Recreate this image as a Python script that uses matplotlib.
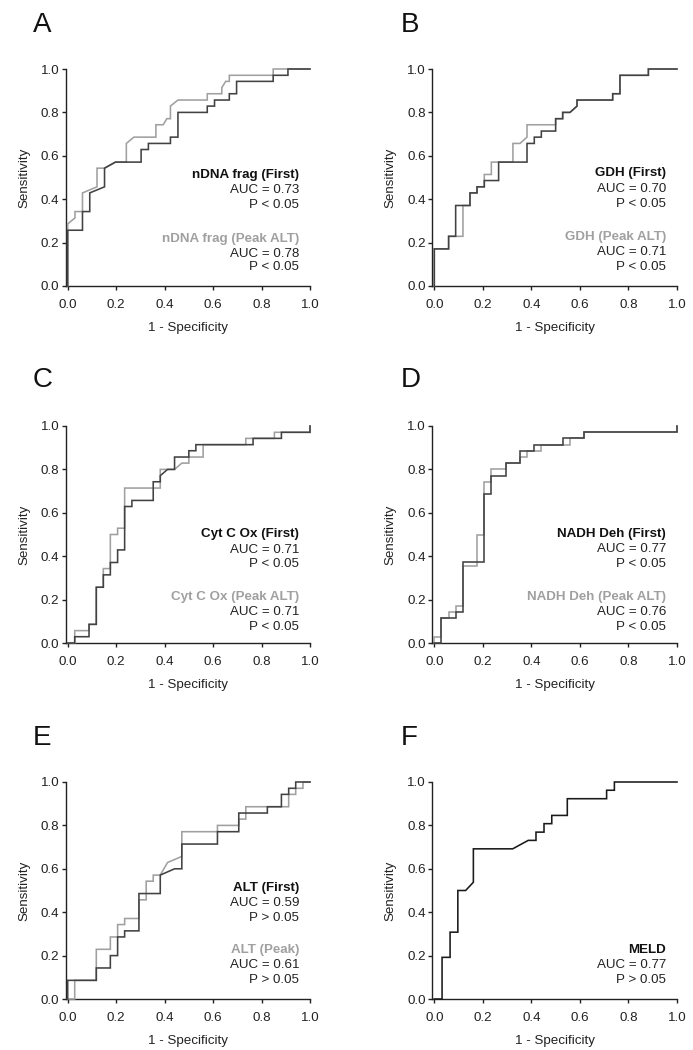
import matplotlib
matplotlib.use("Agg")
import matplotlib.pyplot as plt

plt.rcParams['font.family'] = ['Liberation Sans', 'DejaVu Sans']

# ---------------- data (1 - specificity, sensitivity) vertices ----------------
A_first = [(0, 0), (0, 0.257), (0.061, 0.257), (0.061, 0.343), (0.091, 0.343), (0.091, 0.429),
           (0.152, 0.457), (0.152, 0.543), (0.197, 0.571), (0.303, 0.571), (0.303, 0.629),
           (0.333, 0.629), (0.333, 0.657), (0.424, 0.657), (0.424, 0.686), (0.455, 0.686),
           (0.455, 0.800), (0.576, 0.800), (0.576, 0.829), (0.606, 0.829), (0.606, 0.857),
           (0.667, 0.857), (0.667, 0.886), (0.697, 0.886), (0.697, 0.943), (0.848, 0.943),
           (0.848, 0.971), (0.909, 0.971), (0.909, 1.0), (1.0, 1.0)]
A_peak = [(0, 0), (0, 0.286), (0.030, 0.314), (0.030, 0.343), (0.061, 0.343), (0.061, 0.429),
          (0.121, 0.457), (0.121, 0.543), (0.152, 0.543), (0.197, 0.571), (0.242, 0.571),
          (0.242, 0.657), (0.273, 0.686), (0.364, 0.686), (0.364, 0.743), (0.394, 0.743),
          (0.409, 0.771), (0.424, 0.771), (0.424, 0.829), (0.455, 0.857), (0.576, 0.857),
          (0.576, 0.886), (0.636, 0.886), (0.636, 0.914), (0.652, 0.943), (0.667, 0.943),
          (0.667, 0.971), (0.848, 0.971), (0.848, 1.0), (1.0, 1.0)]

B_first = [(0, 0), (0, 0.171), (0.059, 0.171), (0.059, 0.229), (0.088, 0.229), (0.088, 0.371),
           (0.147, 0.371), (0.147, 0.429), (0.176, 0.429), (0.176, 0.457), (0.206, 0.457),
           (0.206, 0.486), (0.265, 0.486), (0.265, 0.571), (0.382, 0.571), (0.382, 0.657),
           (0.412, 0.657), (0.412, 0.686), (0.441, 0.686), (0.441, 0.714), (0.500, 0.714),
           (0.500, 0.771), (0.529, 0.771), (0.529, 0.800), (0.559, 0.800), (0.588, 0.829),
           (0.588, 0.857), (0.735, 0.857), (0.735, 0.886), (0.765, 0.886), (0.765, 0.971),
           (0.882, 0.971), (0.882, 1.0), (1.0, 1.0)]
B_peak = [(0, 0), (0, 0.171), (0.059, 0.171), (0.059, 0.229), (0.118, 0.229), (0.118, 0.371),
          (0.147, 0.371), (0.147, 0.429), (0.176, 0.429), (0.176, 0.457), (0.206, 0.457),
          (0.206, 0.514), (0.235, 0.514), (0.235, 0.571), (0.324, 0.571), (0.324, 0.657),
          (0.353, 0.657), (0.382, 0.686), (0.382, 0.743), (0.500, 0.743), (0.500, 0.771),
          (0.529, 0.771), (0.529, 0.800), (0.559, 0.800), (0.588, 0.829), (0.588, 0.857),
          (0.735, 0.857), (0.735, 0.886), (0.765, 0.886), (0.765, 0.971), (0.882, 0.971),
          (0.882, 1.0), (1.0, 1.0)]

C_first = [(0, 0), (0.029, 0), (0.029, 0.029), (0.088, 0.029), (0.088, 0.086), (0.118, 0.086),
           (0.118, 0.257), (0.147, 0.257), (0.147, 0.314), (0.176, 0.314), (0.176, 0.371),
           (0.206, 0.371), (0.206, 0.429), (0.235, 0.429), (0.235, 0.629), (0.265, 0.629),
           (0.265, 0.657), (0.353, 0.657), (0.353, 0.743), (0.382, 0.743), (0.382, 0.771),
           (0.412, 0.800), (0.441, 0.800), (0.441, 0.857), (0.500, 0.857), (0.500, 0.886),
           (0.529, 0.886), (0.529, 0.914), (0.765, 0.914), (0.765, 0.943), (0.882, 0.943),
           (0.882, 0.971), (1.0, 0.971), (1.0, 1.0)]
C_peak = [(0, 0), (0.029, 0), (0.029, 0.057), (0.088, 0.057), (0.088, 0.086), (0.118, 0.086),
          (0.118, 0.257), (0.147, 0.257), (0.147, 0.343), (0.176, 0.343), (0.176, 0.500),
          (0.206, 0.500), (0.206, 0.529), (0.235, 0.529), (0.235, 0.714), (0.382, 0.714),
          (0.382, 0.800), (0.441, 0.800), (0.471, 0.829), (0.500, 0.829), (0.500, 0.857),
          (0.559, 0.857), (0.559, 0.914), (0.735, 0.914), (0.735, 0.943), (0.853, 0.943),
          (0.853, 0.971), (1.0, 0.971), (1.0, 1.0)]

D_first = [(0, 0), (0.029, 0), (0.029, 0.114), (0.088, 0.114), (0.088, 0.143), (0.118, 0.143),
           (0.118, 0.371), (0.206, 0.371), (0.206, 0.686), (0.235, 0.686), (0.235, 0.771),
           (0.294, 0.771), (0.294, 0.829), (0.353, 0.829), (0.353, 0.886), (0.412, 0.886),
           (0.412, 0.914), (0.529, 0.914), (0.529, 0.943), (0.618, 0.943), (0.618, 0.971),
           (1.0, 0.971), (1.0, 1.0)]
D_peak = [(0, 0), (0, 0.029), (0.029, 0.029), (0.029, 0.114), (0.059, 0.114), (0.059, 0.143),
          (0.088, 0.143), (0.088, 0.171), (0.118, 0.171), (0.118, 0.357), (0.176, 0.357),
          (0.176, 0.500), (0.206, 0.500), (0.206, 0.743), (0.235, 0.743), (0.235, 0.800),
          (0.294, 0.800), (0.294, 0.829), (0.353, 0.829), (0.353, 0.857), (0.382, 0.857),
          (0.382, 0.886), (0.441, 0.886), (0.441, 0.914), (0.559, 0.914), (0.559, 0.943),
          (0.618, 0.943), (0.618, 0.971), (1.0, 0.971), (1.0, 1.0)]

E_first = [(0, 0), (0, 0.086), (0.118, 0.086), (0.118, 0.143), (0.176, 0.143), (0.176, 0.200),
           (0.206, 0.200), (0.206, 0.286), (0.235, 0.286), (0.235, 0.314), (0.294, 0.314),
           (0.294, 0.486), (0.382, 0.486), (0.382, 0.571), (0.441, 0.600), (0.471, 0.600),
           (0.471, 0.714), (0.618, 0.714), (0.618, 0.771), (0.706, 0.771), (0.706, 0.857),
           (0.824, 0.857), (0.824, 0.886), (0.882, 0.886), (0.882, 0.943), (0.912, 0.943),
           (0.912, 0.971), (0.941, 0.971), (0.941, 1.0), (1.0, 1.0)]
E_peak = [(0, 0), (0.029, 0), (0.029, 0.086), (0.118, 0.086), (0.118, 0.229), (0.176, 0.229),
          (0.176, 0.286), (0.206, 0.286), (0.206, 0.343), (0.235, 0.343), (0.235, 0.371),
          (0.294, 0.371), (0.294, 0.457), (0.324, 0.457), (0.324, 0.543), (0.353, 0.543),
          (0.353, 0.571), (0.382, 0.571), (0.412, 0.629), (0.471, 0.657), (0.471, 0.771),
          (0.618, 0.771), (0.618, 0.800), (0.706, 0.800), (0.706, 0.829), (0.735, 0.829),
          (0.735, 0.886), (0.912, 0.886), (0.912, 0.943), (0.941, 0.943), (0.941, 0.971),
          (0.971, 0.971), (0.971, 1.0), (1.0, 1.0)]

F_meld = [(0, 0), (0.032, 0), (0.032, 0.192), (0.065, 0.192), (0.065, 0.308), (0.097, 0.308),
          (0.097, 0.500), (0.129, 0.500), (0.161, 0.538), (0.161, 0.692), (0.323, 0.692),
          (0.387, 0.731), (0.419, 0.731), (0.419, 0.769), (0.452, 0.769), (0.452, 0.808),
          (0.484, 0.808), (0.484, 0.846), (0.548, 0.846), (0.548, 0.923), (0.710, 0.923),
          (0.710, 0.962), (0.742, 0.962), (0.742, 1.0), (1.0, 1.0)]

panel_letters = ['A', 'B', 'C', 'D', 'E', 'F']
first_names = ['nDNA frag (First)', 'GDH (First)', 'Cyt C Ox (First)', 'NADH Deh (First)',
               'ALT (First)', 'MELD']
peak_names = ['nDNA frag (Peak ALT)', 'GDH (Peak ALT)', 'Cyt C Ox (Peak ALT)',
              'NADH Deh (Peak ALT)', 'ALT (Peak)', None]
first_auc = ['0.73', '0.70', '0.71', '0.77', '0.59', '0.77']
peak_auc = ['0.78', '0.71', '0.71', '0.76', '0.61', None]
first_p = ['P < 0.05', 'P < 0.05', 'P < 0.05', 'P < 0.05', 'P > 0.05', 'P > 0.05']
peak_p = ['P < 0.05', 'P < 0.05', 'P < 0.05', 'P < 0.05', 'P > 0.05', None]
first_curves = [A_first, B_first, C_first, D_first, E_first, F_meld]
peak_curves = [A_peak, B_peak, C_peak, D_peak, E_peak, None]
ticks = [0.0, 0.2, 0.4, 0.6, 0.8, 1.0]
tick_labels = ['0.0', '0.2', '0.4', '0.6', '0.8', '1.0']

# ---------------- style / layout ----------------
W, H = 693, 1050
DARK = '#424242'
LIGHT = '#a0a0a0'
FS = 9.6
XMIN = -0.008

col_x0 = [67.7, 434.3]        # pixel x of data 0
col_unit = [242.3, 242.7]     # pixels per unit x
row_bottom = [286, 643, 999]  # pixel y of data 0
row_h = 217
letter_x = [33, 401]
letter_base = [32, 387, 745]

# annotation y positions (data coords) per panel
ann_top = [[0.513, 0.441, 0.372], [0.519, 0.447, 0.377], [0.50, 0.429, 0.365],
           [0.502, 0.431, 0.366], [0.51, 0.441, 0.372], None]
ann_bot = [[0.218, 0.149, 0.088], [0.228, 0.157, 0.088], [0.212, 0.143, 0.074],
           [0.212, 0.143, 0.074], [0.227, 0.155, 0.089], [0.225, 0.155, 0.089]]
ann_x = 0.955

fig = plt.figure(figsize=(W / 100, H / 100), dpi=100)

for i in range(6):
    r, c = divmod(i, 2)
    left_px = col_x0[c] + XMIN * col_unit[c]
    width_px = (1 - XMIN) * col_unit[c]
    ax = fig.add_axes([left_px / W, 1 - row_bottom[r] / H, width_px / W, row_h / H])
    ax.set_xlim(XMIN, 1.0)
    ax.set_ylim(0, 1.0)
    for s in ['top', 'right']:
        ax.spines[s].set_visible(False)
    for s in ['left', 'bottom']:
        ax.spines[s].set_linewidth(1.0)
        ax.spines[s].set_color('#222222')
    ax.set_xticks(ticks)
    ax.set_xticklabels(tick_labels)
    ax.set_yticks(ticks)
    ax.set_yticklabels(tick_labels)
    ax.tick_params(axis='both', direction='out', length=3, width=1.0, color='#222222',
                   labelsize=FS, labelcolor='#222222')
    ax.tick_params(axis='x', pad=6.5)
    ax.tick_params(axis='y', pad=1.8)
    ax.set_xlabel('1 - Specificity', fontsize=FS, color='#222222')
    ax.set_ylabel('Sensitivity', fontsize=FS, color='#222222')
    ax.xaxis.set_label_coords(0.5, -0.168)
    ax.yaxis.set_label_coords(-0.146, 0.5)

    fc = first_curves[i]
    pc = peak_curves[i]
    if pc is not None:
        ax.plot([p[0] for p in pc], [p[1] for p in pc], color=LIGHT, lw=1.15,
                clip_on=False, zorder=3, solid_joinstyle='miter')
        ax.plot([p[0] for p in fc], [p[1] for p in fc], color=DARK, lw=1.15,
                clip_on=False, zorder=4, solid_joinstyle='miter')
    else:
        ax.plot([p[0] for p in fc], [p[1] for p in fc], color='#1a1a1a', lw=1.15,
                clip_on=False, zorder=4, solid_joinstyle='miter')

    if peak_names[i] is not None:
        yt = ann_top[i]
        ax.text(ann_x, yt[0], first_names[i], ha='right', va='center', fontsize=FS,
                fontweight='bold', color='#111111')
        ax.text(ann_x, yt[1], 'AUC = ' + first_auc[i], ha='right', va='center',
                fontsize=FS, color='#222222')
        ax.text(ann_x, yt[2], first_p[i], ha='right', va='center', fontsize=FS,
                color='#222222')
        yb = ann_bot[i]
        ax.text(ann_x, yb[0], peak_names[i], ha='right', va='center', fontsize=FS,
                fontweight='bold', color=LIGHT)
        ax.text(ann_x, yb[1], 'AUC = ' + peak_auc[i], ha='right', va='center',
                fontsize=FS, color='#222222')
        ax.text(ann_x, yb[2], peak_p[i], ha='right', va='center', fontsize=FS,
                color='#222222')
    else:
        yb = ann_bot[i]
        ax.text(ann_x, yb[0], first_names[i], ha='right', va='center', fontsize=FS,
                fontweight='bold', color='#111111')
        ax.text(ann_x, yb[1], 'AUC = ' + first_auc[i], ha='right', va='center',
                fontsize=FS, color='#222222')
        ax.text(ann_x, yb[2], first_p[i], ha='right', va='center', fontsize=FS,
                color='#222222')

    fig.text(letter_x[c] / W, 1 - letter_base[r] / H, panel_letters[i], fontsize=20,
             ha='left', va='baseline', color='#111111')

fig.savefig('out.png', dpi=100, facecolor='white')
